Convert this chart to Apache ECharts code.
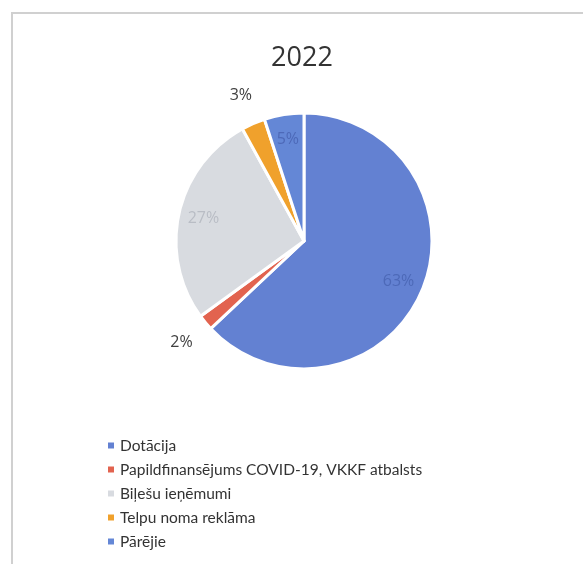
<!DOCTYPE html>
<html>
<head>
<meta charset="utf-8">
<script src="https://cdn.jsdelivr.net/npm/echarts@6/dist/echarts.min.js"></script>
<style>
  html, body { margin: 0; padding: 0; background: #fff; }
  #chart { position: absolute; left: 0; top: 0; width: 583px; height: 564px; }
  #frame { position: absolute; left: 11px; top: 12px; width: 572px; height: 552px; z-index: 2;
           pointer-events: none; border-left: 2px solid #d0d0d0; border-top: 2px solid #d0d0d0; }
</style>
</head>
<body>
<div id="chart"></div>
<div id="frame"></div>
<script>
// 2022 ienemumu struktura
var categories = ['Dotācija', 'Papildfinansējums COVID-19, VKKF atbalsts', 'Biļešu ieņēmumi', 'Telpu noma reklāma', 'Pārējie']
var values = [63, 2, 27, 3, 5]
var colors = ['#6381d2', '#e2634f', '#d8dbe0', '#f0a12c', '#6487d6']
var labelColors = ['#4d69b8', '#404040', '#b9bdc5', '#404040', '#4d69b8']
// which labels sit outside the pie
var outside = [false, true, false, true, false]

const myChart = echarts.init(document.getElementById('chart'))

function pieData (showFn) {
  return categories.map(function (name, i) {
    return {
      name: name,
      value: values[i],
      label: { show: showFn(i), color: labelColors[i] }
    }
  })
}

myChart.setOption({
  backgroundColor: '#ffffff',
  color: colors,
  animation: false,
  title: {
    text: '2022',
    left: 297,
    top: 40,
    textAlign: 'center',
    textStyle: { fontFamily: 'Open Sans', fontWeight: 'normal', fontSize: 27, color: '#333' }
  },
  legend: {
    orient: 'vertical',
    left: 101,
    top: 430,
    icon: 'rect',
    itemWidth: 8,
    itemHeight: 8,
    itemGap: 3,
    data: categories,
    textStyle: { fontFamily: 'Lato', fontSize: 15.5, color: '#333', lineHeight: 21 }
  },
  series: [
    {
      // the pie itself
      type: 'pie',
      center: [304, 241],
      radius: [0, 128],
      startAngle: 90,
      silent: true,
      label: { show: false },
      labelLine: { show: false },
      itemStyle: { borderColor: '#fff', borderWidth: 3 },
      data: categories.map(function (name, i) { return { name: name, value: values[i] } })
    },
    {
      // inner labels
      type: 'pie',
      center: [304, 241],
      radius: [72, 128],
      startAngle: 90,
      silent: true,
      itemStyle: { color: 'rgba(0,0,0,0)', borderWidth: 0 },
      label: { position: 'inside', fontFamily: 'Open Sans', fontSize: 16, formatter: '{c}%' },
      labelLine: { show: false },
      data: pieData(function (i) { return !outside[i] })
    },
    {
      // outer labels for the thin slices
      type: 'pie',
      center: [304, 241],
      radius: [140, 172],
      startAngle: 90,
      silent: true,
      itemStyle: { color: 'rgba(0,0,0,0)', borderWidth: 0 },
      label: { position: 'inside', fontFamily: 'Open Sans', fontSize: 16, formatter: '{c}%' },
      labelLine: { show: false },
      data: pieData(function (i) { return outside[i] })
    }
  ]
})
</script>
</body>
</html>
